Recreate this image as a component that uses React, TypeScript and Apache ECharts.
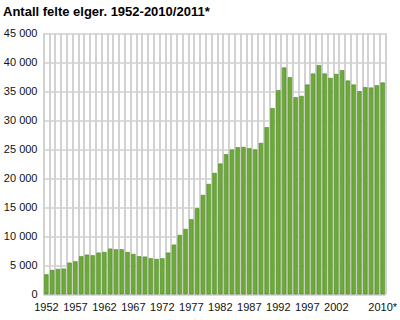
import React, { useEffect, useRef } from "react";
import * as echarts from "echarts";

const years: string[] = [];
for (let y = 1952; y <= 2010; y++) years.push(String(y));

const felte: number[] = [
  3450, 4200, 4370, 4430, 5460, 5690, 6560, 6840, 6730, 7190,
  7300, 7880, 7760, 7760, 7300, 6960, 6560, 6500, 6210, 6100,
  6210, 7190, 8570, 10240, 11270, 12940, 14840, 17135, 19030, 20930,
  22540, 24150, 24955, 25360, 25415, 25185, 24955, 26100, 28810, 32085,
  35190, 39100, 37430, 33980, 34210, 36170, 38065, 39500, 38065, 37320,
  38000, 38640, 36860, 36170, 35020, 35710, 35650, 36050, 36510,
];

const yTicks: number[] = [0, 5000, 10000, 15000, 20000, 25000, 30000, 35000, 40000, 45000];

export default function App() {
  const ref = useRef<HTMLDivElement>(null);
  useEffect(() => {
    if (!ref.current) return;
    const chart = echarts.init(ref.current, undefined, { renderer: "svg" });
    const font = "Liberation Sans";
    chart.setOption({
      animation: false,
      textStyle: { fontFamily: font },
      title: {
        text: "Antall felte elger. 1952-2010/2011*",
        left: 3,
        top: 5,
        padding: 0,
        textStyle: { fontSize: 13, fontWeight: "bold", color: "#000", fontFamily: font },
      },
      grid: { left: 43.5, right: 9, top: 33.3, bottom: 25.7, containLabel: false },
      xAxis: {
        type: "category",
        data: years,
        boundaryGap: true,
        axisLine: { show: true, lineStyle: { color: "#c8c8c8", width: 1 } },
        axisTick: { show: false },
        splitLine: {
          show: true,
          interval: 0,
          lineStyle: { color: "#d2d2d2", width: 2 },
        },
        axisLabel: {
          interval: (i: number) => (i % 5 === 0 && i <= 50) || i === years.length - 1,
          formatter: (v: string, i: number) => (i === years.length - 1 ? v + "*" : v),
          color: "#111",
          fontSize: 11,
          fontFamily: font,
          margin: 7,
          showMaxLabel: true,
        },
      },
      yAxis: {
        type: "value",
        min: 0,
        max: yTicks[yTicks.length - 1],
        interval: 5000,
        axisLine: { show: false },
        axisTick: { show: false },
        splitLine: { show: true, lineStyle: { color: "#cfcfcf", width: 1.5 } },
        axisLabel: {
          color: "#111",
          fontSize: 11,
          fontFamily: font,
          margin: 6,
          align: "right",
          formatter: (v: number) => String(v).replace(/\B(?=(\d{3})+(?!\d))/g, " "),
        },
      },
      series: [
        {
          type: "bar",
          data: felte,
          barCategoryGap: "25%",
          itemStyle: {
            color: "#6cab35",
            borderColor: "#4d8a22",
            borderWidth: 0.6,
          },
        },
      ],
    });
    return () => chart.dispose();
  }, []);
  return (
    <div
      ref={ref}
      style={{ position: "absolute", left: 0, top: 0, width: 400, height: 320 }}
    />
  );
}
